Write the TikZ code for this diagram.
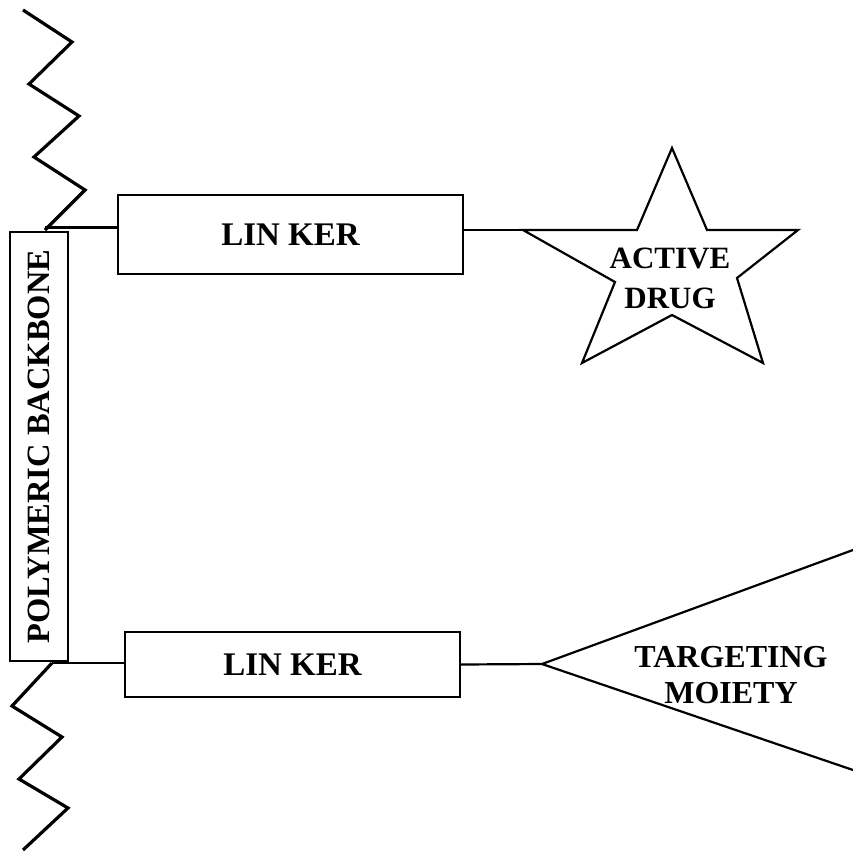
\documentclass[tikz,border=0pt]{standalone}
\usepackage{fontspec}
\setmainfont{Liberation Serif}
\usepackage{tikz}
\usetikzlibrary{calc, positioning}

\tikzset{
    linkbox/.style={draw, line width=2.2pt, font=\fontsize{33}{36}\selectfont\bfseries},
    chain/.style={line width=3.2pt, line join=miter},
    bond/.style={line width=2.2pt}
}

\begin{document}
\begin{tikzpicture}[x=1pt, y=-1pt]
    \useasboundingbox (0,0) rectangle (853,851);

    % 1. Khung polyme
    \node[linkbox, font=\fontsize{32.5}{36}\selectfont\bfseries, rotate=90,
        minimum width=429pt, minimum height=58pt, inner sep=0pt]
        (backbone) at (39,446.5) {POLYMERIC BACKBONE};
    \draw[chain] (23,10) -- (72,42) -- (29,84) -- (79,116) -- (34,157) -- (85,190)
        -- (45,230) coordinate (topend);
    \draw[chain] (52,663) coordinate (botend) -- (12,706) -- (62,737) -- (19,779)
        -- (68,808) -- (23,850);

    % 2. Cac linker
    \node[linkbox, minimum width=345pt, minimum height=79pt] (link1) at (290.5,234.5) {LIN KER};
    \node[linkbox, minimum width=335pt, minimum height=65pt] (link2) at (292.5,664.5) {LIN KER};

    % 3. Ngoi sao thuoc
    \coordinate (drugL) at (523,230);
    \draw[bond, line join=miter] (drugL) -- (637,230) -- (672,148) -- (707,230) -- (798,230)
        -- (737,278) -- (763,363) -- (672,315) -- (582,363) -- (615,282) -- cycle;
    \node[font=\fontsize{31}{40}\selectfont\bfseries, align=center] (drug) at (670,278)
        {ACTIVE\\DRUG};

    % 4. Tam giac dinh huong
    \coordinate (apex) at (542,664);
    \draw[bond] (853,550) -- (apex) -- (853,770);
    \node[font=\fontsize{32}{36}\selectfont\bfseries, align=center] (target) at (731,675)
        {TARGETING\\MOIETY};

    % 5. Lien ket
    \draw[bond] (topend |- link1.west) ++(0,-7) -- (link1.west |- 0,227.5);
    \draw[bond] (link1.east |- drugL) -- (drugL);
    \draw[bond] (botend) -- (botend -| link2.west);
    \draw[bond] (link2.east) -- (apex);
\end{tikzpicture}
\end{document}
